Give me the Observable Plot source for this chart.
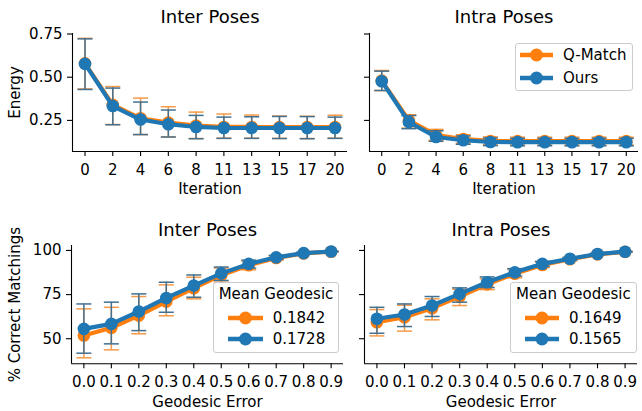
<!DOCTYPE html>
<html><head><meta charset="utf-8">
<script src="https://cdn.jsdelivr.net/npm/d3@7"></script>
<script src="https://cdn.jsdelivr.net/npm/@observablehq/plot@0.6"></script>
<style>
body{margin:0;background:#fff;font-family:"DejaVu Sans",sans-serif;}
#fig{position:relative;width:642px;height:411px;overflow:hidden;background:#fff;}
#fig > svg{position:absolute;}
.leg{position:absolute;border:1px solid #cccccc;border-radius:3px;background:rgba(255,255,255,0.8);box-sizing:border-box;font-size:15px;color:#000;font-family:"DejaVu Sans",sans-serif;}
.leg .t{position:absolute;height:20px;line-height:20px;white-space:nowrap;}
.leg svg{position:absolute;overflow:visible;}
</style></head><body><div id="fig"></div>
<script>
// ---- categories / tick labels ----
const iterations = ["0","2","4","6","8","11","13","15","17","20"];
const geoErrors = [0.0,0.1,0.2,0.3,0.4,0.5,0.6,0.7,0.8,0.9];
const seriesNames = ["Q-Match","Ours"];
const meanGeoInter = ["0.1842","0.1728"];
const meanGeoIntra = ["0.1649","0.1565"];

// ---- Energy, Inter Poses ----
const energyInterQ   = [0.580,0.340,0.262,0.237,0.220,0.212,0.212,0.211,0.211,0.211];
const energyInterQLo = [0.432,0.226,0.168,0.154,0.145,0.147,0.147,0.146,0.145,0.147];
const energyInterQHi = [0.725,0.446,0.379,0.329,0.298,0.287,0.281,0.275,0.274,0.280];
const energyInterO   = [0.577,0.333,0.255,0.228,0.212,0.206,0.206,0.206,0.206,0.206];
const energyInterOLo = [0.429,0.225,0.168,0.154,0.144,0.146,0.146,0.145,0.144,0.146];
const energyInterOHi = [0.722,0.437,0.356,0.310,0.279,0.269,0.271,0.273,0.272,0.269];

// ---- Energy, Intra Poses ----
const energyIntraQ   = [0.480,0.250,0.165,0.142,0.131,0.130,0.130,0.130,0.130,0.130];
const energyIntraQLo = [0.423,0.205,0.135,0.118,0.110,0.108,0.108,0.108,0.108,0.108];
const energyIntraQHi = [0.539,0.283,0.198,0.167,0.155,0.153,0.153,0.153,0.153,0.153];
const energyIntraO   = [0.477,0.240,0.154,0.135,0.125,0.124,0.124,0.124,0.124,0.124];
const energyIntraOLo = [0.423,0.202,0.129,0.112,0.104,0.103,0.103,0.103,0.103,0.103];
const energyIntraOHi = [0.535,0.278,0.190,0.160,0.148,0.146,0.146,0.146,0.146,0.146];

// ---- % Correct Matchings, Inter Poses ----
const corrInterQ   = [51.8,56.2,63.1,71.0,78.6,86.0,91.6,95.7,98.3,99.3];
const corrInterQLo = [39.2,43.7,52.8,63.0,72.6,82.0,89.0,94.5,97.8,99.1];
const corrInterQHi = [66.9,67.8,73.9,80.5,84.8,90.0,94.0,96.9,98.8,99.5];
const corrInterO   = [55.6,58.4,65.4,73.1,80.1,87.0,92.4,96.1,98.5,99.4];
const corrInterOLo = [41.8,47.1,54.6,65.0,73.5,83.0,90.0,95.0,98.0,99.2];
const corrInterOHi = [69.7,70.7,75.4,82.0,86.1,90.6,94.5,97.2,99.0,99.6];

// ---- % Correct Matchings, Intra Poses ----
const corrIntraQ   = [59.3,62.2,67.3,73.9,80.8,86.8,91.8,95.0,97.8,99.2];
const corrIntraQLo = [51.6,54.3,60.7,68.8,77.8,84.5,90.3,94.1,97.4,99.0];
const corrIntraQHi = [66.5,69.0,72.6,78.0,84.0,89.2,93.4,95.9,98.2,99.4];
const corrIntraO   = [61.3,63.7,68.8,75.4,82.0,87.6,92.4,95.3,98.0,99.3];
const corrIntraOLo = [53.1,56.9,62.6,70.7,79.0,85.5,91.0,94.5,97.6,99.1];
const corrIntraOHi = [67.8,69.7,73.9,78.8,85.0,89.7,93.8,96.1,98.4,99.5];

const ORANGE = "#ff7f0e", BLUE = "#1f77b4";
const ORANGE_ERR = "#f59a48", BLUE_ERR = "#44708f";

const capSymbol = {draw(ctx){ ctx.moveTo(-7.5,0); ctx.lineTo(7.5,0); }};

function rows(xs, m, lo, hi){ return xs.map((x,i)=>({x, m:m[i], lo:lo[i], hi:hi[i]})); }

function makePanel(o){
  const q = rows(o.xs, o.q[0], o.q[1], o.q[2]);
  const u = rows(o.xs, o.u[0], o.u[1], o.u[2]);
  const marks = [];
  for (const [d,c,ec] of [[q,ORANGE,ORANGE_ERR],[u,BLUE,BLUE_ERR]]){
    marks.push(Plot.ruleX(d,{x:"x",y1:"lo",y2:"hi",stroke:ec,strokeWidth:1.5}));
    marks.push(Plot.dot(d,{x:"x",y:"lo",symbol:capSymbol,fill:"none",stroke:ec,strokeWidth:1.5,r:3}));
    marks.push(Plot.dot(d,{x:"x",y:"hi",symbol:capSymbol,fill:"none",stroke:ec,strokeWidth:1.5,r:3}));
    marks.push(Plot.line(d,{x:"x",y:"m",stroke:c,strokeWidth:4.2}));
    marks.push(Plot.dot(d,{x:"x",y:"m",fill:c,stroke:"none",r:6.3}));
  }
  marks.push(Plot.ruleY([o.yDomain[0]],{stroke:"black",strokeWidth:1.1}));
  marks.push(Plot.ruleX([o.xDomain[0]],{stroke:"black",strokeWidth:1.1}));
  marks.push(Plot.axisX({ticks:o.xTicks,tickFormat:o.xFormat,tickSize:5,tickPadding:8,label:null,strokeWidth:1.1}));
  marks.push(Plot.axisY({ticks:o.yTicks,tickFormat:o.yLabels?o.yFormat:(()=>""),tickSize:5,tickPadding:5,label:null,strokeWidth:1.1}));
  marks.push(Plot.text([o.title],{frameAnchor:"top",lineAnchor:"middle",dy:o.titleDy,fontSize:18}));
  marks.push(Plot.text([o.xLabel],{frameAnchor:"bottom",lineAnchor:"middle",dy:38}));
  if (o.yLabel) marks.push(Plot.text([o.yLabel],{frameAnchor:"left",textAnchor:"middle",lineAnchor:"middle",dx:o.yLabelDx,rotate:-90}));
  const svg = Plot.plot({
    width:o.width, height:o.height,
    marginLeft:o.ml, marginRight:o.mr, marginTop:o.mt, marginBottom:o.mb,
    x:{domain:o.xDomain, axis:null},
    y:{domain:o.yDomain, axis:null},
    style:{fontFamily:"DejaVu Sans", fontSize:"15px", color:"black", background:"transparent", overflow:"visible"},
    marks
  });
  svg.style.left = o.left+"px";
  svg.style.top = o.top+"px";
  document.getElementById("fig").appendChild(svg);
}

const idx = iterations.map((_,i)=>i);
const topCommon = {xs:idx, xDomain:[-0.45,9.45], xTicks:idx, xFormat:i=>iterations[i],
  yDomain:[0.07,0.753], yTicks:[0.25,0.5,0.75], yFormat:d3.format(".2f"),
  height:200, mt:33, mb:49, top:0, titleDy:-16, xLabel:"Iteration"};
const botCommon = {xs:geoErrors, xDomain:[-0.045,0.945], xTicks:geoErrors, xFormat:d3.format(".1f"),
  yDomain:[35.8,102.8], yTicks:[50,75,100], yFormat:d3.format("d"),
  height:211, mt:45, mb:47.7, top:200, titleDy:-15, xLabel:"Geodesic Error"};

makePanel({...topCommon, title:"Inter Poses", yLabel:"Energy", yLabels:true, yLabelDx:-57,
  left:0, width:350, ml:72, mr:3,
  q:[energyInterQ,energyInterQLo,energyInterQHi], u:[energyInterO,energyInterOLo,energyInterOHi]});
makePanel({...topCommon, title:"Intra Poses", yLabels:false,
  left:350, width:292, ml:19, mr:4,
  q:[energyIntraQ,energyIntraQLo,energyIntraQHi], u:[energyIntraO,energyIntraOLo,energyIntraOHi]});
makePanel({...botCommon, title:"Inter Poses", yLabel:"% Correct Matchings", yLabels:true, yLabelDx:-56,
  left:0, width:350, ml:71, mr:7,
  q:[corrInterQ,corrInterQLo,corrInterQHi], u:[corrInterO,corrInterOLo,corrInterOHi]});
makePanel({...botCommon, title:"Intra Poses", yLabels:false,
  left:350, width:292, ml:14, mr:5,
  q:[corrIntraQ,corrIntraQLo,corrIntraQHi], u:[corrIntraO,corrIntraOLo,corrIntraOHi]});

// ---- legends ----
function handle(color, x1, x2, cy){
  const s = document.createElementNS("http://www.w3.org/2000/svg","svg");
  s.setAttribute("width", x2-x1); s.setAttribute("height", 16);
  s.style.left = x1+"px"; s.style.top = (cy-8)+"px";
  const w = x2-x1;
  s.innerHTML = `<line x1="0" x2="${w}" y1="8" y2="8" stroke="${color}" stroke-width="4.5"/><circle cx="${w/2}" cy="8" r="6.5" fill="${color}"/>`;
  return s;
}
function legend(o){
  const box = document.createElement("div");
  box.className = "leg";
  Object.assign(box.style,{left:o.left+"px",top:o.top+"px",width:o.w+"px",height:o.h+"px"});
  if (o.title){
    const t = document.createElement("div"); t.className="t"; t.textContent=o.title;
    Object.assign(t.style,{left:"0",width:"100%",textAlign:"center",top:(o.titleY-10)+"px"});
    box.appendChild(t);
  }
  o.labels.forEach((lab,i)=>{
    const cy = o.rowY[i];
    box.appendChild(handle([ORANGE,BLUE][i], o.hx1, o.hx2, cy));
    const t = document.createElement("div"); t.className="t"; t.textContent=lab;
    Object.assign(t.style,{left:o.tx+"px",top:(cy-10)+"px"});
    box.appendChild(t);
  });
  document.getElementById("fig").appendChild(box);
}
legend({left:515, top:43, w:118, h:48, labels:seriesNames, rowY:[11,34], hx1:4, hx2:37, tx:47});
legend({left:212.7, top:281.7, w:126.6, h:71.6, title:"Mean Geodesic", titleY:11.3, labels:meanGeoInter, rowY:[35.6,56.6], hx1:14, hx2:49, tx:59});
legend({left:510, top:281.7, w:126.7, h:71.6, title:"Mean Geodesic", titleY:11.3, labels:meanGeoIntra, rowY:[35.6,56.6], hx1:14.3, hx2:48.3, tx:58});
</script></body></html>
